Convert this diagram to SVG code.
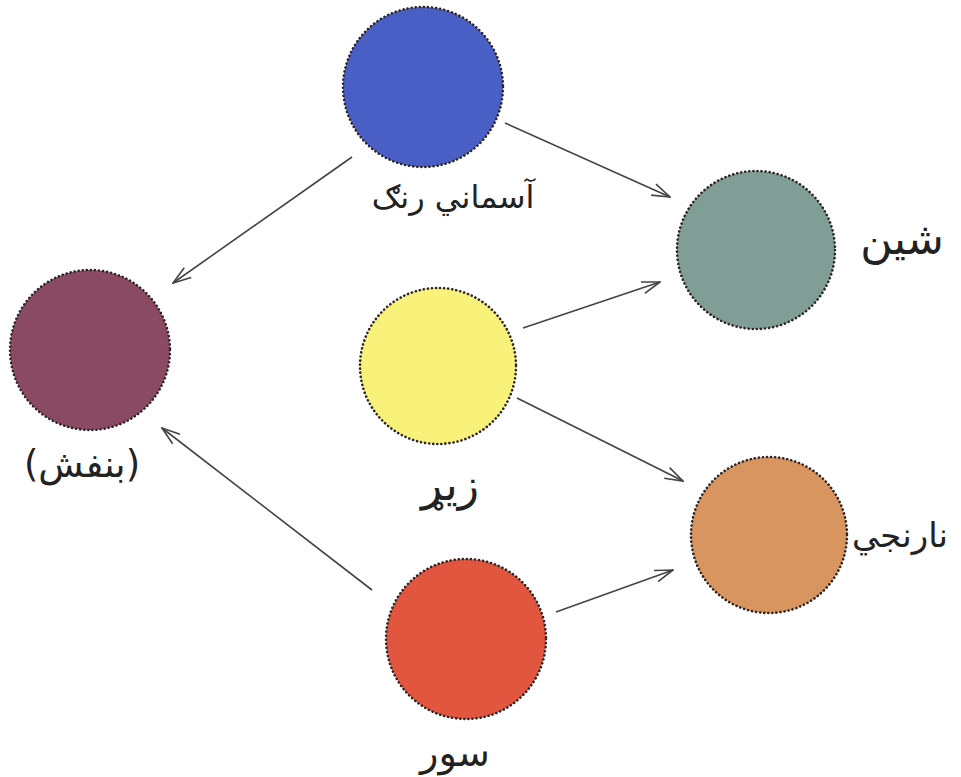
<svg xmlns="http://www.w3.org/2000/svg" width="961" height="777" viewBox="0 0 961 777">
<defs>
<style>
.c{stroke:#2e2626;stroke-width:2.6;stroke-dasharray:0.1 4;stroke-linecap:round}
.l{font-family:"DejaVu Sans","Noto Sans",sans-serif;font-size:30px;fill:#222;text-anchor:middle;direction:rtl}
.e{stroke:#444;stroke-width:1.6;fill:none;marker-end:url(#a)}
</style>
<marker id="a" viewBox="0 0 20 14" refX="19" refY="7" markerWidth="20" markerHeight="14" markerUnits="userSpaceOnUse" orient="auto">
<path d="M1,1 L19,7 L1,13" fill="none" stroke="#444" stroke-width="1.6"/>
</marker>
</defs>
<rect width="961" height="777" fill="#fff"/>
<g id="connectors">
<line class="e" x1="505" y1="123" x2="670" y2="197"/>
<line class="e" x1="352" y1="157" x2="173" y2="283"/>
<line class="e" x1="523" y1="328" x2="660" y2="282"/>
<line class="e" x1="517" y1="398" x2="683" y2="481"/>
<line class="e" x1="372" y1="590" x2="162" y2="428"/>
<line class="e" x1="556" y1="612" x2="673" y2="570"/>
</g>
<g id="blue"><circle class="c" cx="423" cy="87" r="80" fill="#4a5fc6"/><text class="l" x="453" y="208" style="font-size:32px">آسماني رنګ</text></g>
<g id="green"><circle class="c" cx="756" cy="250" r="79" fill="#809e95"/><text class="l" x="902" y="254" style="font-size:44px">شين</text></g>
<g id="violet"><circle class="c" cx="90" cy="350" r="80" fill="#8b4a63"/><text class="l" x="82" y="477" style="font-size:37px">(بنفش)</text></g>
<g id="yellow"><circle class="c" cx="438" cy="366" r="78" fill="#f8f17a"/><text class="l" x="450" y="500" style="font-size:44px">زیړ</text></g>
<g id="orange"><circle class="c" cx="769" cy="535" r="78" fill="#d9955f"/><text class="l" x="900" y="547" style="font-size:34px">نارنجي</text></g>
<g id="red"><circle class="c" cx="466" cy="639" r="80" fill="#e2553f"/><text class="l" x="455" y="766" style="font-size:38px">سور</text></g>
</svg>
